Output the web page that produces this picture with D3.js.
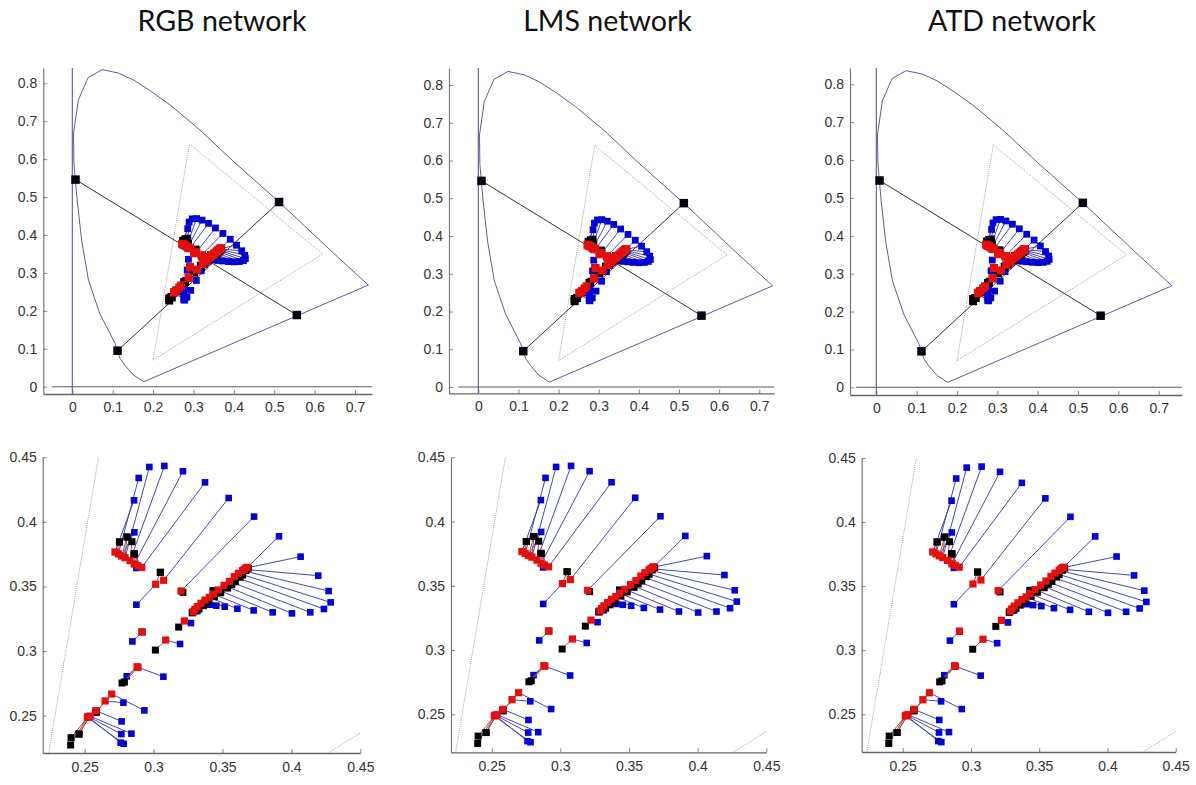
<!DOCTYPE html>
<html>
<head>
<meta charset="utf-8">
<script src="https://d3js.org/d3.v7.min.js"></script>
<style>
  html, body { margin: 0; padding: 0; background: #fff; }
  svg { display: block; }
  .title { font: 28.6px Lato, sans-serif; fill: #111; text-anchor: middle; }
  .tick text { font: 14px "Liberation Sans", Arial, sans-serif; fill: #333; }
  .marks { filter: blur(0.35px); }
</style>
</head>
<body>
<div id="chart"></div>
<script>
const titles = ["RGB network", "LMS network", "ATD network"];

// spectrum locus, chromaticity x / y
const locusX = [0.177, 0.151, 0.130, 0.118, 0.106, 0.068, 0.040, 0.023, 0.012, 0.004, 0.003, 0.015, 0.039, 0.074, 0.114, 0.151, 0.192, 0.242, 0.316, 0.399, 0.512, 0.646, 0.733];
const locusY = [0.013, 0.031, 0.057, 0.075, 0.114, 0.193, 0.281, 0.387, 0.493, 0.589, 0.668, 0.756, 0.815, 0.836, 0.827, 0.809, 0.781, 0.743, 0.677, 0.594, 0.487, 0.353, 0.268];

// dotted display gamut
const gamutX = [0.29, 0.62, 0.20];
const gamutY = [0.64, 0.35, 0.07];

// the two black lines, end points pairwise
const primaryX = [0.008, 0.556, 0.112, 0.512];
const primaryY = [0.546, 0.189, 0.095, 0.487];

// one entry per stimulus: blue -> red -> black
const blueX = [0.2858, 0.2892, 0.2860, 0.2969, 0.3078, 0.3213, 0.3373, 0.2875, 0.3545, 0.2875, 0.3729, 0.3910, 0.4067, 0.4195, 0.4270, 0.4285, 0.4236, 0.4137, 0.4004, 0.3864, 0.3726, 0.3608, 0.3516, 0.3455, 0.3409, 0.3361, 0.3317, 0.3271, 0.3192, 0.2846, 0.3071, 0.2805, 0.2933, 0.2781, 0.2768, 0.2839, 0.2766, 0.2761, 0.2783];
const blueY = [0.4167, 0.4340, 0.3919, 0.4425, 0.4433, 0.4392, 0.4306, 0.3643, 0.4185, 0.3359, 0.4041, 0.3888, 0.3731, 0.3584, 0.3465, 0.3377, 0.3326, 0.3300, 0.3292, 0.3300, 0.3315, 0.3328, 0.3344, 0.3352, 0.3359, 0.3370, 0.3310, 0.3217, 0.3055, 0.3075, 0.2802, 0.2805, 0.2541, 0.2601, 0.2456, 0.2361, 0.2358, 0.2291, 0.2283];
const redX = [0.2720, 0.2744, 0.2768, 0.2793, 0.2829, 0.2860, 0.2914, 0.2885, 0.3073, 0.3015, 0.3199, 0.3680, 0.3670, 0.3658, 0.3646, 0.3615, 0.3586, 0.3550, 0.3511, 0.3470, 0.3433, 0.3404, 0.3373, 0.3344, 0.3317, 0.3300, 0.3288, 0.3223, 0.3088, 0.2916, 0.2887, 0.2880, 0.2696, 0.2648, 0.2582, 0.2539, 0.2529, 0.2524, 0.2519];
const redY = [0.3767, 0.3752, 0.3736, 0.3723, 0.3700, 0.3674, 0.3648, 0.3661, 0.3548, 0.3517, 0.3465, 0.3648, 0.3643, 0.3633, 0.3623, 0.3602, 0.3576, 0.3540, 0.3509, 0.3473, 0.3442, 0.3416, 0.3395, 0.3370, 0.3344, 0.3323, 0.3305, 0.3233, 0.3086, 0.3148, 0.2874, 0.2879, 0.2668, 0.2614, 0.2539, 0.2497, 0.2492, 0.2492, 0.2487];
const blackX = [0.2752, 0.2752, 0.2807, 0.2807, 0.2843, 0.2860, 0.2860, 0.2860, 0.3049, 0.3049, 0.3213, 0.3687, 0.3670, 0.3646, 0.3627, 0.3593, 0.3567, 0.3537, 0.3487, 0.3431, 0.3441, 0.3397, 0.3361, 0.3330, 0.3300, 0.3281, 0.3281, 0.3182, 0.3013, 0.2916, 0.2788, 0.2771, 0.2582, 0.2582, 0.2582, 0.2459, 0.2459, 0.2401, 0.2398];
const blackY = [0.3845, 0.3845, 0.3883, 0.3883, 0.3847, 0.3752, 0.3752, 0.3752, 0.3610, 0.3610, 0.3455, 0.3641, 0.3623, 0.3589, 0.3571, 0.3537, 0.3514, 0.3488, 0.3452, 0.3468, 0.3421, 0.3383, 0.3352, 0.3326, 0.3313, 0.3297, 0.3297, 0.3186, 0.3008, 0.3148, 0.2761, 0.2753, 0.2528, 0.2528, 0.2528, 0.2358, 0.2358, 0.2330, 0.2273];

const topTicksX = [0, 0.1, 0.2, 0.3, 0.4, 0.5, 0.6, 0.7];
const topTicksY = [0, 0.1, 0.2, 0.3, 0.4, 0.5, 0.6, 0.7, 0.8];
const zoomTicks = [0.25, 0.3, 0.35, 0.4, 0.45];

const width = 1196;
const height = 785;

// pixel frames of the panels, measured on the picture
const titleCenters = [222, 607.5, 1012];
const topFrames = [
  { left: 43.3, right: 372, top: 68, bottom: 394, x0: 72.3, x7: 355, y0: 386.7, y8: 83.3 },
  { left: 449, right: 774, top: 68, bottom: 393.3, x0: 478.3, x7: 759.3, y0: 387, y8: 85 },
  { left: 850, right: 1182, top: 68, bottom: 395, x0: 876.3, x7: 1158.7, y0: 387.3, y8: 84.3 }
];
const zoomFrames = [
  { left: 42.7, top: 457.3, bottom: 753, x25: 84.7, x45: 360.3, y25: 715.7, y45: 457.3 },
  { left: 451, top: 457.3, bottom: 752.3, x25: 491.7, x45: 766.3, y25: 714.3, y45: 457.3 },
  { left: 861.7, top: 458, bottom: 752, x25: 902.7, x45: 1175.7, y25: 714.3, y45: 458 }
];

const svg = d3.select("#chart").append("svg")
  .attr("width", width)
  .attr("height", height);

const defs = svg.append("defs");

titles.forEach((t, i) => {
  svg.append("text")
    .attr("class", "title")
    .attr("x", titleCenters[i])
    .attr("y", 31)
    .text(t);
});

function styleAxis(g, color, w) {
  g.select(".domain").attr("stroke", color).attr("stroke-width", w);
  g.selectAll(".tick line").attr("stroke", "#666").attr("stroke-width", 0.8);
}

function drawAxes(x, y, f, ticksX, ticksY, padX) {
  const fmt = d => String(d);
  svg.append("g")
    .attr("transform", `translate(${f.left},0)`)
    .call(d3.axisLeft(y).tickValues(ticksY).tickFormat(fmt).tickSizeInner(-4).tickSizeOuter(0).tickPadding(6))
    .call(g => styleAxis(g, "#777", 1.2));
  svg.append("g")
    .attr("transform", `translate(0,${f.bottom})`)
    .call(d3.axisBottom(x).tickValues(ticksX).tickFormat(fmt).tickSizeInner(-4).tickSizeOuter(0).tickPadding(padX))
    .call(g => styleAxis(g, "#666", 1.3));
}

function drawMarkers(g, x, y, sizes) {
  const idx = d3.range(blueX.length);
  const link = (cls, ax, ay, bx, by, color) => {
    g.selectAll("line." + cls).data(idx).join("line")
      .attr("class", cls)
      .attr("x1", i => x(ax[i])).attr("y1", i => y(ay[i]))
      .attr("x2", i => x(bx[i])).attr("y2", i => y(by[i]))
      .attr("stroke", color).attr("stroke-width", 1);
  };
  const squares = (cls, ax, ay, size, color) => {
    g.selectAll("rect." + cls).data(idx).join("rect")
      .attr("class", cls)
      .attr("x", i => x(ax[i]) - size / 2).attr("y", i => y(ay[i]) - size / 2)
      .attr("width", size).attr("height", size)
      .attr("fill", color);
  };
  link("lb", blueX, blueY, redX, redY, "#4848b0");
  squares("sb", blueX, blueY, sizes[0], "#0303d2");
  link("lk", redX, redY, blackX, blackY, "#a84848");
  squares("sk", blackX, blackY, sizes[1], "#000");
  squares("sr", redX, redY, sizes[2], "#e2100f");
}

// top row, whole chromaticity diagram
topFrames.forEach(f => {
  const x = d3.scaleLinear().domain([0, 0.7]).range([f.x0, f.x7]);
  const y = d3.scaleLinear().domain([0, 0.8]).range([f.y0, f.y8]);
  x.domain([x.invert(f.left), x.invert(f.right)]).range([f.left, f.right]);
  y.domain([y.invert(f.bottom), y.invert(f.top)]).range([f.bottom, f.top]);

  drawAxes(x, y, f, topTicksX, topTicksY, 8);

  const g = svg.append("g").attr("class", "marks");
  const line = d3.line().x(d => x(d[0])).y(d => y(d[1]));

  g.append("line")
    .attr("x1", x(0)).attr("x2", x(0)).attr("y1", f.top).attr("y2", f.bottom)
    .attr("stroke", "#55558f").attr("stroke-width", 1.1);
  g.append("line")
    .attr("x1", x(-0.05)).attr("x2", f.right).attr("y1", y(0)).attr("y2", y(0))
    .attr("stroke", "#55558f").attr("stroke-width", 1.1);

  g.append("path")
    .attr("d", line(d3.zip(locusX, locusY)) + "Z")
    .attr("fill", "none").attr("stroke", "#5c5c9c").attr("stroke-width", 1);
  g.append("path")
    .attr("d", line(d3.zip(gamutX, gamutY)) + "Z")
    .attr("fill", "none").attr("stroke", "#a5a59a").attr("stroke-width", 1).attr("stroke-dasharray", "1,1");

  [[0, 1], [2, 3]].forEach(p => {
    g.append("line")
      .attr("x1", x(primaryX[p[0]])).attr("y1", y(primaryY[p[0]]))
      .attr("x2", x(primaryX[p[1]])).attr("y2", y(primaryY[p[1]]))
      .attr("stroke", "#333").attr("stroke-width", 1);
  });
  primaryX.forEach((v, i) => {
    g.append("rect")
      .attr("x", x(v) - 4.25).attr("y", y(primaryY[i]) - 4.25)
      .attr("width", 8.5).attr("height", 8.5)
      .attr("fill", "#05050f");
  });

  drawMarkers(g, x, y, [6.8, 8, 8]);
});

// bottom row, zoomed in
zoomFrames.forEach((f, n) => {
  const x = d3.scaleLinear().domain([0.25, 0.45]).range([f.x25, f.x45]);
  const y = d3.scaleLinear().domain([0.25, 0.45]).range([f.y25, f.y45]);
  x.domain([x.invert(f.left), 0.45]).range([f.left, f.x45]);
  y.domain([y.invert(f.bottom), 0.45]).range([f.bottom, f.y45]);

  drawAxes(x, y, f, zoomTicks, zoomTicks, 9);

  defs.append("clipPath").attr("id", "clip" + n).append("rect")
    .attr("x", f.left).attr("y", f.y45)
    .attr("width", f.x45 - f.left).attr("height", f.bottom - f.y45);

  const g = svg.append("g").attr("class", "marks");
  const line = d3.line().x(d => x(d[0])).y(d => y(d[1]));

  g.append("path")
    .attr("clip-path", `url(#clip${n})`)
    .attr("d", line(d3.zip(gamutX, gamutY)) + "Z")
    .attr("fill", "none").attr("stroke", "#b59aa5").attr("stroke-width", 1).attr("stroke-dasharray", "1,1");

  drawMarkers(g, x, y, [6.6, 7, 7.2]);
});
</script>
</body>
</html>
